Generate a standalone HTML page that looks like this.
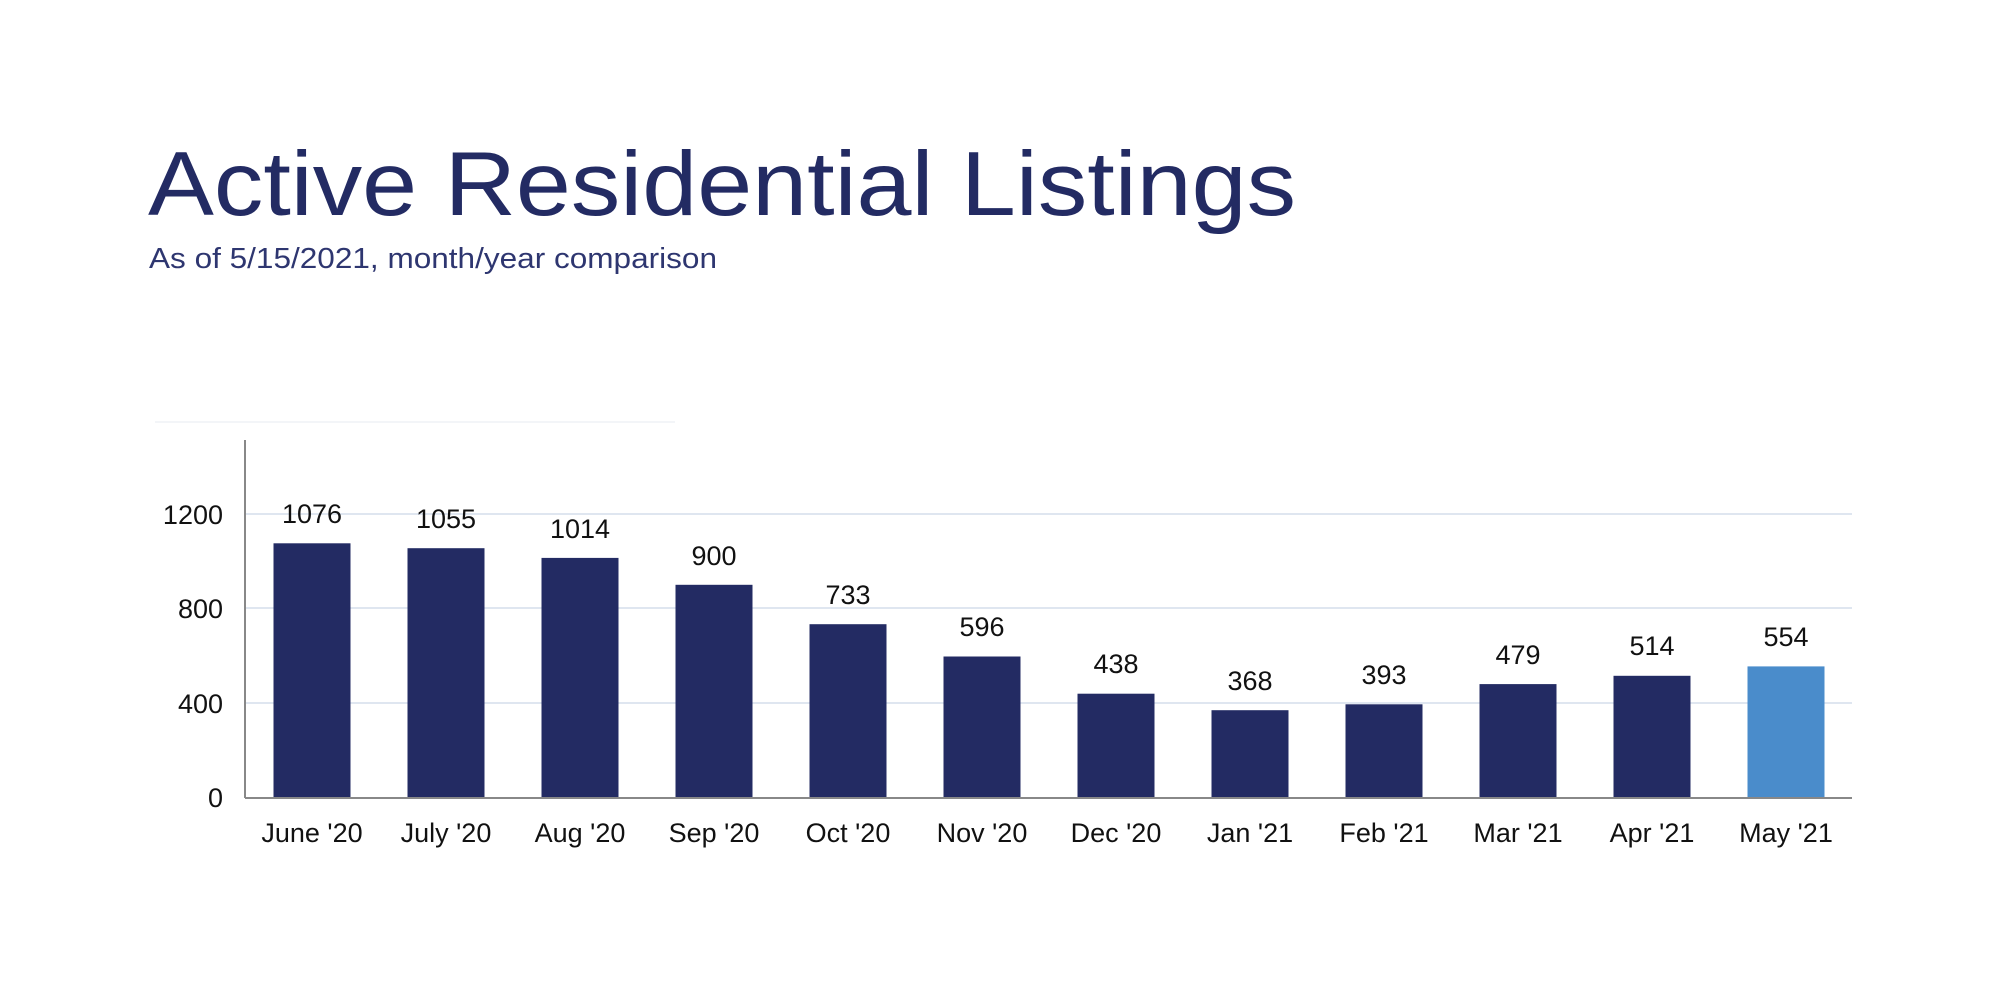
<!DOCTYPE html>
<html><head><meta charset="utf-8"><style>
html,body{margin:0;padding:0;background:#fff;}
svg{display:block}
text{font-family:"Liberation Sans",sans-serif;}
</style></head><body>
<svg width="2000" height="1000" viewBox="0 0 2000 1000" xmlns="http://www.w3.org/2000/svg">
<rect width="2000" height="1000" fill="#fff"/>
<text x="148" y="215" font-size="91" fill="#232b63" textLength="1148" lengthAdjust="spacingAndGlyphs">Active Residential Listings</text>
<text x="149" y="268" font-size="29" fill="#2e3670" textLength="568" lengthAdjust="spacingAndGlyphs">As of 5/15/2021, month/year comparison</text>
<line x1="155" y1="422" x2="675" y2="422" stroke="#f3f5f8" stroke-width="2"/>
<g stroke="#dfe6f0" stroke-width="2">
<line x1="245" y1="514" x2="1852" y2="514"/>
<line x1="245" y1="608" x2="1852" y2="608"/>
<line x1="245" y1="703" x2="1852" y2="703"/>
</g>
<line x1="245" y1="440" x2="245" y2="798" stroke="#888" stroke-width="2"/>
<line x1="245" y1="798" x2="1852" y2="798" stroke="#888" stroke-width="2"/>
<g font-size="27" fill="#111" text-anchor="end">
<text x="223" y="524">1200</text>
<text x="223" y="618">800</text>
<text x="223" y="713">400</text>
<text x="223" y="807">0</text>
</g>
<g fill="#232b63">
<rect x="273.5" y="543.3" width="77" height="253.7"/>
<rect x="407.5" y="548.2" width="77" height="248.8"/>
<rect x="541.5" y="557.9" width="77" height="239.1"/>
<rect x="675.5" y="584.8" width="77" height="212.2"/>
<rect x="809.5" y="624.2" width="77" height="172.8"/>
<rect x="943.5" y="656.5" width="77" height="140.5"/>
<rect x="1077.5" y="693.7" width="77" height="103.3"/>
<rect x="1211.5" y="710.2" width="77" height="86.8"/>
<rect x="1345.5" y="704.3" width="77" height="92.7"/>
<rect x="1479.5" y="684.1" width="77" height="112.9"/>
<rect x="1613.5" y="675.8" width="77" height="121.2"/>
</g>
<rect x="1747.5" y="666.4" width="77" height="130.6" fill="#4a8ccb"/>
<g font-size="27" fill="#111" text-anchor="middle">
<text x="312" y="523">1076</text>
<text x="446" y="528">1055</text>
<text x="580" y="538">1014</text>
<text x="714" y="565">900</text>
<text x="848" y="604">733</text>
<text x="982" y="636">596</text>
<text x="1116" y="673">438</text>
<text x="1250" y="690">368</text>
<text x="1384" y="684">393</text>
<text x="1518" y="664">479</text>
<text x="1652" y="655">514</text>
<text x="1786" y="646">554</text>
</g>
<g font-size="27" fill="#111" text-anchor="middle">
<text x="312" y="842">June '20</text>
<text x="446" y="842">July '20</text>
<text x="580" y="842">Aug '20</text>
<text x="714" y="842">Sep '20</text>
<text x="848" y="842">Oct '20</text>
<text x="982" y="842">Nov '20</text>
<text x="1116" y="842">Dec '20</text>
<text x="1250" y="842">Jan '21</text>
<text x="1384" y="842">Feb '21</text>
<text x="1518" y="842">Mar '21</text>
<text x="1652" y="842">Apr '21</text>
<text x="1786" y="842">May '21</text>
</g>
</svg>
</body></html>
